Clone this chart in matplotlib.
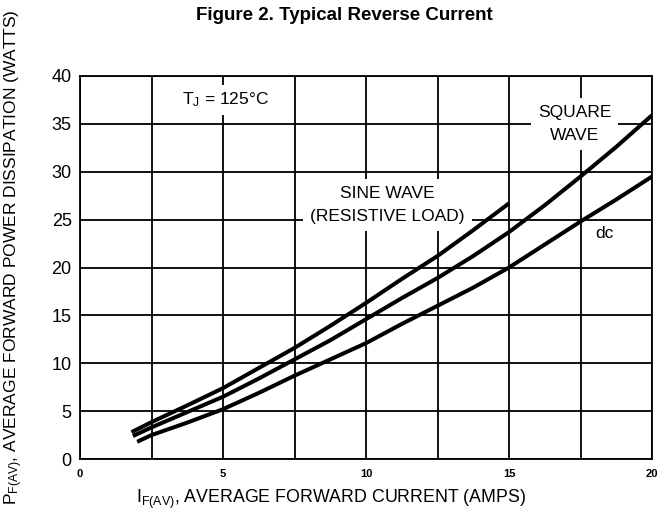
import matplotlib
matplotlib.use("Agg")
import matplotlib.pyplot as plt
from matplotlib.ticker import MultipleLocator

plt.rcParams['font.family'] = ['Liberation Sans', 'DejaVu Sans']
plt.rcParams['mathtext.default'] = 'regular'

# Data
sine_x = [1.8, 2.5, 3.75, 5.0, 6.25, 7.5, 8.75, 10.0, 11.25, 12.5, 13.75, 15.0]
sine_y = [2.8, 3.85, 5.6, 7.4, 9.5, 11.6, 13.9, 16.3, 18.8, 21.2, 23.9, 26.7]

square_x = [1.85, 2.5, 3.75, 5.0, 6.25, 7.5, 8.75, 10.0, 11.25, 12.5, 13.75, 15.0, 16.25, 17.5, 18.75, 20.0]
square_y = [2.4, 3.3, 4.9, 6.5, 8.4, 10.4, 12.4, 14.6, 16.8, 18.9, 21.2, 23.7, 26.5, 29.5, 32.6, 35.9]

dc_x = [2.0, 2.5, 3.75, 5.0, 6.25, 7.5, 8.75, 10.0, 11.25, 12.5, 13.75, 15.0, 16.25, 17.5, 18.75, 20.0]
dc_y = [1.8, 2.5, 3.8, 5.2, 6.9, 8.7, 10.4, 12.1, 14.1, 16.0, 17.9, 20.0, 22.4, 24.8, 27.1, 29.5]

x_ticks = [0, 5, 10, 15, 20]
y_ticks = [0, 5, 10, 15, 20, 25, 30, 35, 40]

W, H = 664, 523
fig = plt.figure(figsize=(W / 100, H / 100), dpi=100)
ax = fig.add_axes([80 / W, 1 - 459 / H, (652 - 80) / W, (459 - 76) / H])

ax.set_xlim(0, 20)
ax.set_ylim(0, 40)
ax.set_xticks(x_ticks)
ax.set_yticks(y_ticks)
ax.xaxis.set_minor_locator(MultipleLocator(2.5))
ax.tick_params(which='both', length=0)
ax.tick_params(axis='x', pad=7)
ax.tick_params(axis='y', pad=6)
for lab in ax.get_xticklabels():
    lab.set_fontsize(8)
    lab.set_fontweight('bold')
for lab in ax.get_yticklabels():
    lab.set_fontsize(13)

ax.grid(which='both', color='black', linewidth=1.3, zorder=1)
ax.set_axisbelow(True)
for s in ax.spines.values():
    s.set_linewidth(1.3)

lw = 2.9
ax.plot(sine_x, sine_y, color='black', lw=lw, solid_capstyle='butt', solid_joinstyle='round', zorder=4)
ax.plot(square_x, square_y, color='black', lw=lw, solid_capstyle='butt', solid_joinstyle='round', zorder=4)
ax.plot(dc_x, dc_y, color='black', lw=lw, solid_capstyle='butt', solid_joinstyle='round', zorder=4)

ax.text(5.1, 37.5, r'T$_J$ = 125°C', fontsize=12.5, ha='center', va='center',
        bbox=dict(facecolor='white', edgecolor='none', pad=4), zorder=3)
ax.text(10.75, 26.5, 'SINE WAVE\n(RESISTIVE LOAD)', fontsize=12.5, ha='center', va='center',
        bbox=dict(facecolor='white', edgecolor='none', pad=5), zorder=3, linespacing=1.7)
ax.text(17.3, 35.0, 'SQUARE\nWAVE', fontsize=12.5, ha='center', va='center',
        bbox=dict(facecolor='white', edgecolor='none', pad=5), zorder=3, linespacing=1.65)
ax.text(18.35, 23.5, 'dc', fontsize=12.5, ha='center', va='center',
        bbox=dict(facecolor='white', edgecolor='none', pad=2), zorder=3)

fig.text(344 / W, 1 - 16 / H, 'Figure 2. Typical Reverse Current', fontsize=13.5, fontweight='bold',
         ha='center', va='center')
fig.text(331 / W, 1 - 499 / H, r'I$_{F(AV)}$, AVERAGE FORWARD CURRENT (AMPS)', fontsize=12.8,
         ha='center', va='center')
fig.text(14 / W, 1 - 257 / H, r'P$_{F(AV)}$, AVERAGE FORWARD POWER DISSIPATION (WATTS)', fontsize=12.5,
         ha='center', va='center', rotation=90)

fig.savefig('out.png', dpi=100)
